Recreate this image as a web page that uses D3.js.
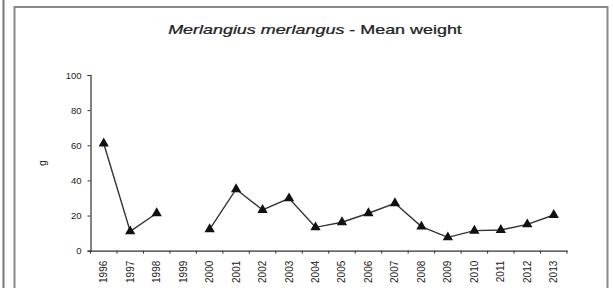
<!DOCTYPE html>
<html><head><meta charset="utf-8">
<script src="https://cdn.jsdelivr.net/npm/d3@7"></script>
<style>body{margin:0;background:#fff}svg{display:block}</style>
</head><body>
<script>
const years = ["1996","1997","1998","1999","2000","2001","2002","2003","2004","2005","2006","2007","2008","2009","2010","2011","2012","2013"];
const meanWeight = [61, 11, 21.3, null, 12.2, 35, 23.2, 29.8, 13.3, 16.2, 21.3, 27, 13.7, 7.6, 11.4, 11.8, 15, 20.3];
const yTicks = [0, 20, 40, 60, 80, 100];
const titleItalic = "Merlangius merlangus";
const titleRest = " - Mean weight";
const yLabel = "g";

const W = 613, H = 288;
const svg = d3.select("body").append("svg").attr("width", W).attr("height", H);
const font = "Liberation Sans, Arial, sans-serif";

// frame
svg.append("line").attr("x1",3.5).attr("x2",3.5).attr("y1",0).attr("y2",H).attr("stroke","#777").attr("stroke-width",2);
svg.append("path").attr("d",`M14.5,${H+2} V7 H607.5 V${H+2}`).attr("fill","none").attr("stroke","#888").attr("stroke-width",2);

const x = d3.scaleBand().domain(years).range([90.5, 567]).paddingInner(0).paddingOuter(0);
const y = d3.scaleLinear().domain([0,100]).range([250.7, 75]);

// title
const tg = svg.append("g").attr("transform","translate(315,34)");
const t = tg.append("text").attr("x", 0).attr("y", 0).attr("text-anchor","middle")
  .attr("font-family", font).attr("font-size", 12.5).attr("fill","#222").attr("stroke","#222").attr("stroke-width",0.25);
t.append("tspan").attr("font-style","italic").text(titleItalic);
t.append("tspan").text(titleRest);
const tw = t.node().getComputedTextLength();
t.attr("transform", `scale(${294/tw},1)`);

// y axis
const ya = svg.append("g").attr("transform","translate(90.5,0)")
  .call(d3.axisLeft(y).tickValues(yTicks).tickSize(3).tickPadding(6));
ya.select(".domain").attr("stroke","#333").attr("stroke-width",1.2);
ya.selectAll(".tick line").attr("stroke","#333");
ya.selectAll("text").attr("font-family",font).attr("font-size",9.5).attr("fill","#222");

// x axis
const xa = svg.append("g").attr("transform",`translate(0,${y(0)})`)
  .call(d3.axisBottom(x).tickSize(0).tickSizeOuter(0).tickPadding(0));
xa.select(".domain").attr("stroke","#333").attr("stroke-width",1.2);
xa.selectAll(".tick line").remove();
const bounds = years.map(d => x(d)).concat([x(years[years.length-1]) + x.bandwidth()]);
xa.selectAll("line.bt").data(bounds).enter().append("line").attr("class","bt")
  .attr("x1", d=>d).attr("x2", d=>d).attr("y1",0).attr("y2",3).attr("stroke","#333");
xa.selectAll(".tick text").attr("font-family",font).attr("font-size",10).attr("fill","#222")
  .attr("text-anchor","end").attr("transform","translate(3.5,10) rotate(-90)").attr("dy",0).attr("y",0);

// y label
svg.append("text").attr("transform",`translate(46,163) rotate(-90)`).attr("text-anchor","middle")
  .attr("font-family",font).attr("font-size",10.5).attr("fill","#222").text(yLabel);

// line
const pts = years.map((d,i)=>({year:d, v:meanWeight[i]}));
const line = d3.line().defined(d=>d.v!==null).x(d=>x(d.year)+x.bandwidth()/2).y(d=>y(d.v));
svg.append("path").datum(pts).attr("d",line).attr("fill","none").attr("stroke","#333").attr("stroke-width",1.4);

const tri = d3.symbol().type(d3.symbolTriangle).size(46);
svg.selectAll("path.m").data(pts.filter(d=>d.v!==null)).enter().append("path").attr("class","m")
  .attr("d",tri).attr("transform",d=>`translate(${x(d.year)+x.bandwidth()/2},${y(d.v)})`).attr("fill","#111");
</script>
</body></html>
